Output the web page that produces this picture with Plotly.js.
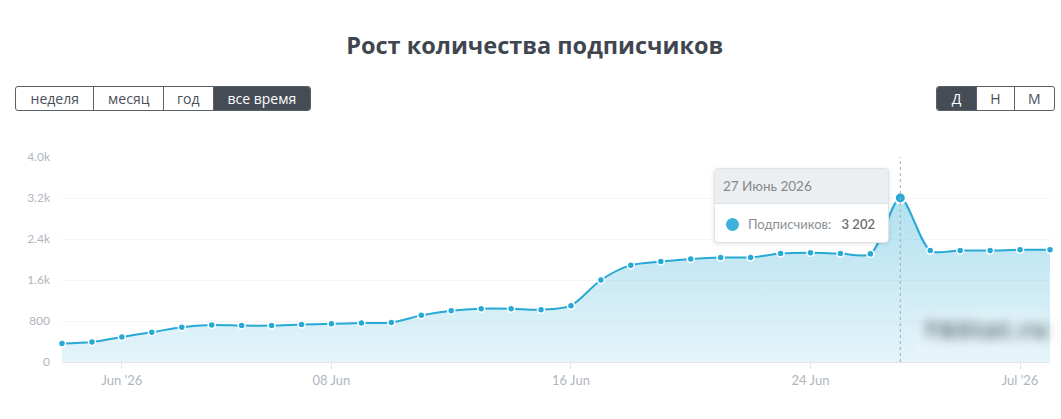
<!DOCTYPE html>
<html><head><meta charset="utf-8">
<script src="https://cdn.plot.ly/plotly-3.0.1.min.js"></script>
<style>
html,body{margin:0;padding:0;background:#fff;}
#wrap{position:relative;width:1061px;height:419px;overflow:hidden;}
#chart{position:absolute;left:0;top:0;width:1061px;height:419px;}
.btns{position:absolute;top:86px;height:25px;display:flex;border:1px solid #5a6068;border-radius:3px;overflow:hidden;box-sizing:border-box;font-family:"Open Sans",sans-serif;font-size:14px;color:#4a5058;}
.btns div{height:23px;line-height:23px;text-align:center;border-left:1px solid #5a6068;box-sizing:border-box;}
.btns div:first-child{border-left:none;}
.btns .on{background:#454c56;color:#fff;}
#tip{position:absolute;left:714px;top:168px;width:175px;height:75px;background:#fff;border:1px solid #dfe3e6;border-radius:4px;box-shadow:0 1px 4px rgba(0,0,0,0.12);box-sizing:border-box;overflow:hidden;font-family:Lato,"Open Sans",sans-serif;}
#tip .hd{height:34px;background:#eceff1;border-bottom:1px solid #dde1e4;color:#85898e;font-size:13.5px;line-height:34px;padding-left:8px;}
#tip .bd{height:40px;line-height:40px;font-size:13px;color:#8a8f94;padding-left:11px;}
#tip .dot{display:inline-block;width:13px;height:13px;border-radius:50%;background:#3cb2da;vertical-align:middle;margin-right:9px;position:relative;top:-1px;}
#tip b{font-weight:600;color:#6a6f74;margin-left:7px;}
#wm{position:absolute;left:915px;top:310px;width:130px;height:44px;background:rgba(255,255,255,0.2);filter:blur(3px);}
#wmt{position:absolute;left:924px;top:314px;font-family:"Open Sans",sans-serif;font-weight:800;font-size:22px;color:rgba(75,90,100,0.85);filter:blur(6px);letter-spacing:2px;}
</style></head>
<body><div id="wrap">
<div id="chart"></div>
<div class="btns" style="left:15px;width:296px;">
<div style="width:78px">неделя</div><div style="width:70px">месяц</div><div style="width:50px">год</div><div class="on" style="width:98px">все время</div>
</div>
<div class="btns" style="left:936px;width:119px;">
<div class="on" style="width:40px">Д</div><div style="width:38px">Н</div><div style="width:41px">М</div>
</div>
<div id="wm"></div><div id="wmt">TGStat.ru</div>
<div id="tip"><div class="hd">27 Июнь 2026</div><div class="bd"><span class="dot"></span>Подписчиков: <b>3 202</b></div></div>
</div>
<script>
const dates = ['2026-05-30','2026-05-31','2026-06-01','2026-06-02','2026-06-03','2026-06-04','2026-06-05','2026-06-06','2026-06-07','2026-06-08','2026-06-09','2026-06-10','2026-06-11','2026-06-12','2026-06-13','2026-06-14','2026-06-15','2026-06-16','2026-06-17','2026-06-18','2026-06-19','2026-06-20','2026-06-21','2026-06-22','2026-06-23','2026-06-24','2026-06-25','2026-06-26','2026-06-27','2026-06-28','2026-06-29','2026-06-30','2026-07-01','2026-07-02'];
const subscribers = [360,390,490,580,680,720,710,710,730,745,760,770,910,1000,1040,1040,1020,1100,1600,1890,1960,2010,2040,2040,2115,2130,2115,2110,3202,2175,2175,2175,2190,2190];
const xTickVals = ['2026-06-01','2026-06-08','2026-06-16','2026-06-24','2026-07-01'];
const xTickText = ["Jun '26",'08 Jun','16 Jun','24 Jun',"Jul '26"];
const yTickVals = [0,800,1600,2400,3200,4000];
const yTickText = ['0','800','1.6k','2.4k','3.2k','4.0k'];
const highlightDate = '2026-06-27';
const highlightValue = 3202;

const lineColor = '#27a9d5';
const traces = [
 {x: dates, y: subscribers, type:'scatter', mode:'lines+markers',
  line:{color:lineColor, width:2, shape:'spline', smoothing:0.8},
  marker:{color:lineColor, size:7, line:{color:'#fff', width:1.5}},
  fill:'tozeroy',
  fillgradient:{type:'vertical', start:0, stop:3202, colorscale:[[0,'rgba(188,228,242,0.4)'],[1,'rgba(80,185,220,0.45)']]},
  cliponaxis:false, hoverinfo:'skip'},
 {x:[highlightDate], y:[highlightValue], type:'scatter', mode:'markers',
  marker:{color:lineColor, size:11, line:{color:'#fff', width:2}}, cliponaxis:false, hoverinfo:'skip'}
];
const layout = {
 width:1061, height:419,
 margin:{l:62, r:11, t:157, b:57},
 paper_bgcolor:'#fff', plot_bgcolor:'#fff',
 showlegend:false,
 font:{family:'Lato, "Open Sans", sans-serif', color:'#b0b6bd', size:11},
 title:{text:'Рост количества подписчиков', x:0.504, xanchor:'center', y:0.89, yanchor:'middle',
   font:{family:'"Open Sans", sans-serif', size:23.5, color:'#3f4650', weight:700}},
 xaxis:{type:'date', range:['2026-05-30','2026-07-02'], tickvals:xTickVals, ticktext:xTickText,
   showgrid:false, zeroline:false, showline:true, linecolor:'#e3e6e8', linewidth:1,
   ticks:'outside', ticklen:6, tickcolor:'#e3e6e8', tickfont:{size:13, color:'#b0b6bd'}, fixedrange:true},
 yaxis:{range:[0,4000], tickvals:yTickVals, ticktext:yTickText, showgrid:true, gridcolor:'#f4f5f6',
   zeroline:false, showline:false, ticks:'', ticklabelstandoff:11, tickfont:{size:12, color:'#b0b6bd'}, fixedrange:true},
 shapes:[{type:'line', xref:'x', yref:'paper', x0:highlightDate, x1:highlightDate, y0:0, y1:1,
   line:{color:'#a4aab0', width:1, dash:'3px,3px'}, layer:'above'}]
};
Plotly.newPlot('chart', traces, layout, {staticPlot:true, displayModeBar:false});
</script>
</body></html>
